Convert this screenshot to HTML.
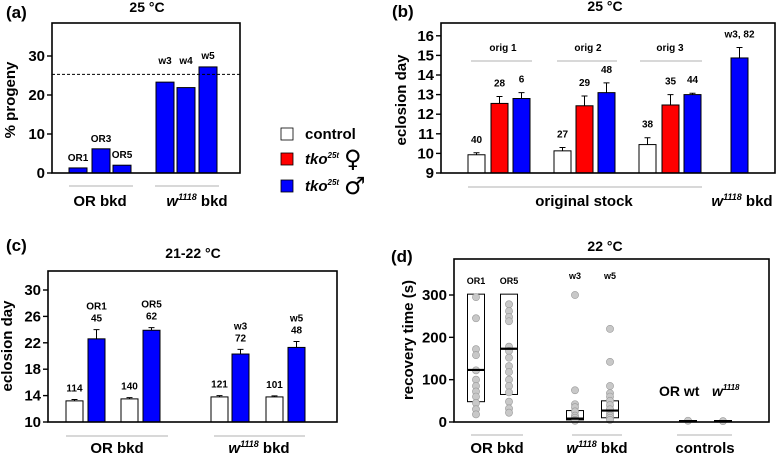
<!DOCTYPE html>
<html><head><meta charset="utf-8"><style>
html,body{margin:0;padding:0;background:#fff}
svg{display:block;font-family:"Liberation Sans",Arial,sans-serif;font-weight:bold}
</style></head><body>
<svg id="fig" width="777" height="453" viewBox="0 0 777 453" xmlns="http://www.w3.org/2000/svg">
<g>
<rect x="281" y="128" width="12" height="12" fill="#fff" stroke="#000" stroke-width="0.8"/>
<text x="305" y="139" font-size="15">control</text>
<rect x="281" y="153" width="12" height="12" fill="#f00" stroke="#000" stroke-width="0.8"/>
<text x="305" y="164" font-size="15" font-style="italic">tko<tspan font-size="8" dy="-6">25t</tspan></text>
<text x="344" y="167" font-size="24" font-weight="normal" font-family="DejaVu Sans, sans-serif">♀</text>
<rect x="281" y="180" width="12" height="12" fill="#00f" stroke="#000" stroke-width="0.8"/>
<text x="305" y="191" font-size="15" font-style="italic">tko<tspan font-size="8" dy="-6">25t</tspan></text>
<text x="344" y="194" font-size="24" font-weight="normal" font-family="DejaVu Sans, sans-serif">♂</text>
</g>
</svg>
<script>
// ---------- data ----------
const aLabels=["OR1","OR3","OR5","w3","w4","w5"];
const aValues=[1.3,6.2,2.0,23.3,21.9,27.2];
const aTicks=[0,10,20,30];
const aRef=25.3;

const bColors=["w","r","b","w","r","b","w","r","b","b"];
const bValues=[9.93,12.55,12.8,10.13,12.43,13.1,10.45,12.47,13.0,14.87];
const bErrors=[0.1,0.35,0.3,0.17,0.5,0.5,0.35,0.53,0.07,0.53];
const bN=["40","28","6","27","29","48","38","35","44","w3, 82"];
const bTicks=[9,10,11,12,13,14,15,16];

const cColors=["w","b","w","b","w","b","w","b"];
const cValues=[13.2,22.6,13.5,23.9,13.8,20.3,13.8,21.3];
const cErrors=[0.2,1.4,0.2,0.4,0.2,0.7,0.15,0.9];
const cN=["114","45","140","62","121","72","101","48"];
const cLine=["","OR1","","OR5","","w3","","w5"];
const cTicks=[10,14,18,22,26,30];

const dGroups=["OR1","OR5","w3","w5","OR wt","w1118"];
const dBoxLow=[48,65,5,10,null,null];
const dBoxHigh=[302,302,27,50,null,null];
const dMedian=[123,173,8,27,2,2];
const dPoints=[
 [295,245,172,158,122,100,85,72,60,45,30,18],
 [278,262,248,238,178,168,152,132,118,100,85,70,48,32,22],
 [300,75,42,35,25,15,10,5,3],
 [220,142,85,68,60,50,40,30,20,15,10,5],
 [3],[2]];
const dTicks=[0,100,200,300];

// ---------- helpers ----------
const svg=document.getElementById('fig');
const NS="http://www.w3.org/2000/svg";
function mk(tag,attrs,parent){const e=document.createElementNS(NS,tag);for(const k in attrs)e.setAttribute(k,attrs[k]);(parent||svg).appendChild(e);return e;}
function txt(x,y,s,size,parent,anchor){const t=mk('text',{x:x,y:y,'font-size':size,'text-anchor':anchor||'middle'},parent);t.textContent=s;return t;}
const COL={w:"#fff",r:"#f00",b:"#00f"};
function frame(g,x0,x1,y0,y1){
  const r=mk('rect',{x:x0,y:y0,width:x1-x0,height:y1-y0,fill:'none',stroke:'#000','stroke-width':1.6},g);
  
}
function yaxis(g,ticks,ys,x0,size){
  ticks.forEach(t=>{const y=ys(t);
    const l=mk('line',{x1:x0-5,x2:x0,y1:y,y2:y,stroke:'#000','stroke-width':1.4},g);
    
    const tt=txt(x0-7,y+5,String(t),size,g,'end');
    });
}
function ytitle(g,x,y,s){const t=txt(0,0,s,15,g);t.setAttribute('transform',`translate(${x},${y}) rotate(-90)`);
  return t;}
function gline(g,x1,x2,y){const l=mk('line',{x1:x1,x2:x2,y1:y,y2:y,stroke:'#999','stroke-width':0.8},g);
  }
function label(g,x,y,s,size,name,anchor){const t=txt(x,y,s,size,g,anchor);return t;}
function wlabel(g,x,y,name){const t=mk('text',{x:x,y:y,'font-size':15,'text-anchor':'middle'},g);
  t.innerHTML='<tspan font-style="italic">w</tspan><tspan font-style="italic" font-size="9" dy="-6">1118</tspan><tspan dy="6"> bkd</tspan>';
  }
function bar(g,x,w,y,y0,fill,name){const r=mk('rect',{x:x,y:y,width:w,height:y0-y,fill:fill,stroke:'#000','stroke-width':1},g);
  return r;}
function err(g,xc,y,yv){const p=mk('path',{d:`M${xc},${yv}V${y}M${xc-3},${y}H${xc+3}`,stroke:'#000','stroke-width':1,fill:'none'},g);
  }

// ---------- panel a ----------
(function(){
const g=mk('g',{});
const x0=52,x1=240,y0=23,y1=173,ys=v=>y1-v*3.9;
label(g,6,18,'(a)',17,'panel-label','start');label(g,147,12,'25 °C',14,'panel-title');
const xs=[69,92,113,156,177,199];
aValues.forEach((v,i)=>{bar(g,xs[i],18,ys(v),y1,'#00f','bar-'+aLabels[i].toLowerCase());
  const ly=v>15?Math.min(ys(v)-8,64):ys(v)-7;
  label(g,xs[i]+9,ly,aLabels[i],10,'bar-label');});
const d=mk('line',{x1:x0,x2:x1,y1:ys(aRef),y2:ys(aRef),stroke:'#000','stroke-width':1,'stroke-dasharray':'3,2'},g);

frame(g,x0,x1,y0,y1);yaxis(g,aTicks,ys,x0,15);ytitle(g,15,100,'% progeny');
gline(g,69,133,186);gline(g,155,219,186);
label(g,100,206,'OR bkd',15,'x-group-label-or');wlabel(g,197,206,'x-group-label-w1118');
})();

// ---------- panel b ----------
(function(){
const g=mk('g',{});
const x0=441,x1=775,y0=23,y1=173,ys=v=>y1-(v-9)*19.6;
label(g,392,17,'(b)',17,'panel-label','start');label(g,605,11,'25 °C',14,'panel-title');
const xs=[468,491,513,554,576,598,639,662,684,731];
bValues.forEach((v,i)=>{const yt=ys(v);bar(g,xs[i],17,yt,y1,COL[bColors[i]],'bar-b'+(i+1));
  const ye=ys(v+bErrors[i]);err(g,xs[i]+8.5,ye,yt);label(g,xs[i]+8.5,ye-10,bN[i],10,'n-label');});
frame(g,x0,x1,y0,y1);yaxis(g,bTicks,ys,x0,15);ytitle(g,406,100,'eclosion day');
[['orig 1',503,471,532],['orig 2',588,557,617],['orig 3',670,640,702]].forEach(o=>{label(g,o[1],51,o[0],10,'origin-label');gline(g,o[2],o[3],61);});
gline(g,468,702,187);
label(g,584,206,'original stock',15,'x-group-label-original');wlabel(g,742,206,'x-group-label-w1118');
})();

// ---------- panel c ----------
(function(){
const g=mk('g',{});
const x0=48,x1=337,y0=271,y1=422,ys=v=>y1-(v-10)*6.6;
label(g,6,251,'(c)',17,'panel-label','start');label(g,193,258,'21-22 °C',14,'panel-title');
const xs=[66,88,121,143,211,232,266,288];
cValues.forEach((v,i)=>{const yt=ys(v);bar(g,xs[i],17,yt,y1,COL[cColors[i]],'bar-c'+(i+1));
  const ye=ys(v+cErrors[i]);err(g,xs[i]+8.5,ye,yt);
  label(g,xs[i]+8.5,ye-8,cN[i],10,'n-label');
  if(cLine[i])label(g,xs[i]+8.5,ye-20,cLine[i],10,'line-label');});
frame(g,x0,x1,y0,y1);yaxis(g,cTicks,ys,x0,15);ytitle(g,12,346,'eclosion day');
gline(g,66,168,436);gline(g,214,305,436);
label(g,117,453,'OR bkd',15,'x-group-label-or');wlabel(g,259,453,'x-group-label-w1118');
})();

// ---------- panel d ----------
(function(){
const g=mk('g',{});
const x0=454,x1=769,y0=259,y1=422,ys=v=>y1-v*127/300;
label(g,391,262,'(d)',17,'panel-label','start');label(g,605,251,'22 °C',14,'panel-title');
const xs=[476,509,575,610,688,723];
dGroups.forEach((n,i)=>{const xc=xs[i];
  if(dBoxLow[i]!==null){const r=mk('rect',{x:xc-8.5,y:ys(dBoxHigh[i]),width:17,height:ys(dBoxLow[i])-ys(dBoxHigh[i]),fill:'#fff',stroke:'#000','stroke-width':1},g);
    }
  dPoints[i].forEach(v=>{const c=mk('circle',{cx:xc,cy:ys(v),r:3.6,fill:'#c8c8c8',stroke:'#999','stroke-width':0.6},g);
    });
  const m=mk('line',{x1:xc-9,x2:xc+9,y1:ys(dMedian[i]),y2:ys(dMedian[i]),stroke:'#000','stroke-width':2.2},g);
  
  if(i<4){label(g,xc,i<2?284:279,n,9,'group-label');}
});
label(g,659,396,'OR wt',14,'control-label-or-wt','start');
const t2=mk('text',{x:712,y:396,'font-size':14,'text-anchor':'start','font-style':'italic'},g);
t2.innerHTML='w<tspan font-size="8" dy="-6">1118</tspan>';
frame(g,x0,x1,y0,y1);yaxis(g,dTicks,ys,x0,15);ytitle(g,413,340,'recovery time (s)');
gline(g,471,523,435);gline(g,572,622,435);gline(g,677,732,435);
label(g,497,453,'OR bkd',15,'x-group-label-or');wlabel(g,597,453,'x-group-label-w1118');label(g,705,453,'controls',15,'x-group-label-controls');
})();
</script>
</body></html>
